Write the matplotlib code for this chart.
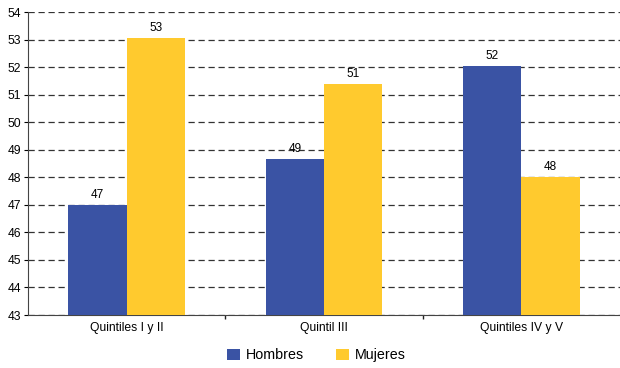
import numpy as np
import matplotlib
matplotlib.use('Agg')
import matplotlib.pyplot as plt

categorias = ['Quintiles I y II', 'Quintil III', 'Quintiles IV y V']
hombres = [47.0, 48.65, 52.05]
mujeres = [53.05, 51.4, 48.0]
etiquetas_h = ['47', '49', '52']
etiquetas_m = ['53', '51', '48']

plt.rcParams['font.family'] = ['Liberation Sans', 'DejaVu Sans']

fig = plt.figure(figsize=(6.2, 3.68), dpi=100)
ax = fig.add_axes([0.045, 0.144, 0.955, 0.823])

x = np.arange(len(categorias))
ancho = 0.295
b1 = ax.bar(x - ancho / 2, hombres, ancho, color='#3A53A4', label='Hombres', zorder=3)
b2 = ax.bar(x + ancho / 2, mujeres, ancho, color='#FFCA2E', label='Mujeres', zorder=3)

for rect, t in zip(b1, etiquetas_h):
    ax.text(rect.get_x() + rect.get_width() / 2, rect.get_height() + 0.15, t,
            ha='center', va='bottom', fontsize=8.5, zorder=4)
for rect, t in zip(b2, etiquetas_m):
    ax.text(rect.get_x() + rect.get_width() / 2, rect.get_height() + 0.15, t,
            ha='center', va='bottom', fontsize=8.5, zorder=4)

ax.set_ylim(43, 54)
ax.set_xlim(-0.5, 2.5)
ax.set_yticks(range(43, 55))
ax.set_xticks(x)
ax.set_xticklabels(categorias, fontsize=8.7)
ax.set_xticks([0.5, 1.5], minor=True)
ax.tick_params(axis='y', labelsize=8.7, length=3, pad=2)
ax.tick_params(axis='x', which='major', length=0, pad=5)
ax.tick_params(axis='x', which='minor', length=3, width=1, color='#222222')
ax.yaxis.grid(True, linestyle=(0, (5, 3)), color='#333333', linewidth=0.9, zorder=0)

ax.spines['top'].set_visible(False)
ax.spines['right'].set_visible(False)
ax.spines['left'].set_color('#444444')
ax.spines['bottom'].set_color('#444444')

fig.legend(handles=[b1, b2], loc='lower center', bbox_to_anchor=(0.51, -0.02), ncol=2,
           frameon=False, fontsize=10.3, handlelength=0.9, handleheight=0.9,
           columnspacing=2.25, handletextpad=0.4)

fig.savefig('out.png', dpi=100)
